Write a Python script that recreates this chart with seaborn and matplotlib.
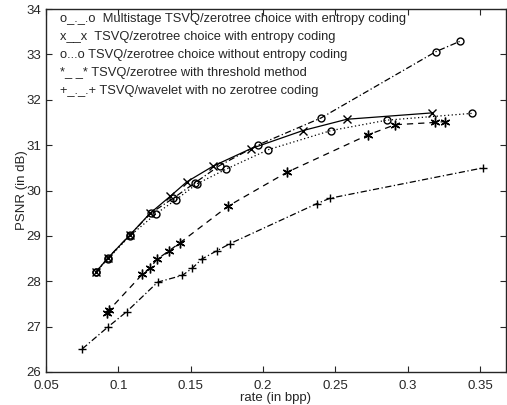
import matplotlib
matplotlib.use("Agg")
import matplotlib.pyplot as plt
import seaborn as sns
import pandas as pd
from matplotlib.ticker import FormatStrFormatter

# rate (bpp) / PSNR (dB)
multi_rate = [0.0844, 0.093, 0.108, 0.1224, 0.138, 0.153, 0.170, 0.1964, 0.2402, 0.3195, 0.3363]
multi_psnr = [28.20, 28.52, 29.02, 29.50, 29.83, 30.17, 30.55, 31.00, 31.60, 33.06, 33.29]

ent_rate = [0.0844, 0.093, 0.108, 0.122, 0.1358, 0.1473, 0.1657, 0.1915, 0.2275, 0.258, 0.3167]
ent_psnr = [28.20, 28.52, 29.02, 29.50, 29.87, 30.19, 30.54, 30.92, 31.32, 31.57, 31.71]

noent_rate = [0.0844, 0.093, 0.108, 0.1261, 0.140, 0.1545, 0.1745, 0.2037, 0.2469, 0.2856, 0.3444]
noent_psnr = [28.20, 28.50, 29.00, 29.49, 29.80, 30.15, 30.47, 30.90, 31.32, 31.55, 31.70]

thr_rate = [0.0925, 0.0935, 0.1165, 0.1222, 0.1266, 0.135, 0.1427, 0.1761, 0.2165, 0.2729, 0.2914, 0.319, 0.3259]
thr_psnr = [27.30, 27.36, 28.15, 28.30, 28.48, 28.67, 28.85, 29.66, 30.40, 31.23, 31.45, 31.50, 31.52]

nozt_rate = [0.0751, 0.0931, 0.1058, 0.1272, 0.1443, 0.1512, 0.1577, 0.168, 0.1773, 0.2372, 0.2464, 0.3524]
nozt_psnr = [26.51, 27.00, 27.33, 27.98, 28.13, 28.29, 28.49, 28.67, 28.83, 29.71, 29.83, 30.50]

legend_lines = [
    "o_._.o  Multistage TSVQ/zerotree choice with entropy coding",
    "x__x  TSVQ/zerotree choice with entropy coding",
    "o...o TSVQ/zerotree choice without entropy coding",
    "*_ _* TSVQ/zerotree with threshold method",
    "+_._.+ TSVQ/wavelet with no zerotree coding",
]

sns.set_style("ticks")
plt.rcParams["font.family"] = ["Liberation Sans", "DejaVu Sans"]

fig = plt.figure(figsize=(5.07, 4.05), dpi=100)
ax = fig.add_axes([46 / 507, (405 - 372) / 405, 460 / 507, 363 / 405])

asterisk = (6, 2, 0)
series = [
    (multi_rate, multi_psnr, "o", 5, (0, (5, 2, 1, 2))),
    (ent_rate, ent_psnr, "x", 6, "-"),
    (noent_rate, noent_psnr, "o", 5, (0, (1, 2))),
    (thr_rate, thr_psnr, asterisk, 7, (0, (5, 4))),
    (nozt_rate, nozt_psnr, "+", 6, (0, (5, 2, 1, 2))),
]
for xs, ys, mk, ms, ls in series:
    df = pd.DataFrame({"rate": xs, "psnr": ys})
    sns.lineplot(data=df, x="rate", y="psnr", ax=ax, color="black",
                 linewidth=0.9, linestyle=ls, marker=mk, markersize=ms,
                 markerfacecolor="none" if mk == "o" else "black",
                 markeredgecolor="black", markeredgewidth=1.0,
                 estimator=None, sort=False)

ax.set_xlim(0.05, 0.368)
ax.set_ylim(26, 34)
ax.set_xticks([0.05, 0.1, 0.15, 0.2, 0.25, 0.3, 0.35])
ax.set_yticks(range(26, 35))
ax.xaxis.set_major_formatter(FormatStrFormatter("%g"))
ax.tick_params(direction="in", top=True, right=True, labelsize=9.5, length=4, width=0.8)
ax.tick_params(axis="x", pad=6)
for sp in ax.spines.values():
    sp.set_visible(True)
    sp.set_linewidth(1.0)
ax.set_xlabel("rate (in bpp)", fontsize=9.5, labelpad=0)
ax.set_ylabel("PSNR (in dB)", fontsize=9.5, labelpad=-1)

for i, txt in enumerate(legend_lines):
    ax.text(0.03, 0.99 - i * 0.0496, txt, transform=ax.transAxes,
            fontsize=9.3, va="top", ha="left")

fig.savefig("out.png", dpi=100)
